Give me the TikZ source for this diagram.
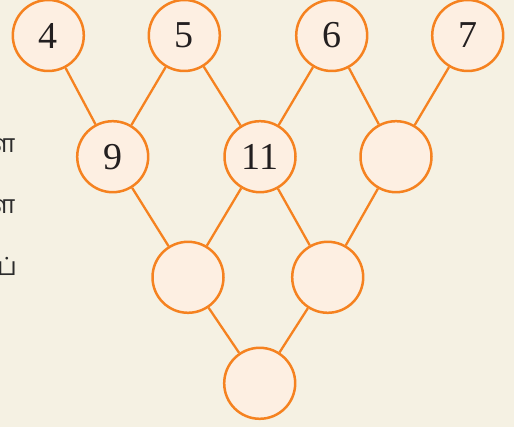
\documentclass[tikz,border=0pt]{standalone}
\usepackage{fontspec}
\setmainfont{Liberation Serif}
\newfontfamily\tamilfont[Script=Tamil]{Hind Madurai}
\definecolor{bg}{HTML}{F5F1E3}
\definecolor{orn}{HTML}{F58220}
\definecolor{cfill}{HTML}{FDEFE2}
\definecolor{txt}{HTML}{231F20}
\definecolor{ttxt}{HTML}{2B2B2B}
\begin{document}
\begin{tikzpicture}[x=1pt,y=-1pt,
  numnode/.style={circle,draw=orn,fill=cfill,line width=2.5pt,minimum size=71pt,inner sep=0pt,
    font=\fontsize{38}{40}\selectfont,text=txt},
  link/.style={draw=orn,line width=2.3pt},
  tam/.style={anchor=east,inner sep=0pt,text=ttxt,font=\tamilfont\fontsize{25}{28}\selectfont}]
\fill[bg] (0,0) rectangle (514,427);
\useasboundingbox (0,0) rectangle (514,427);
\node[numnode] (a) at (48.3,35.5) {4};
\node[numnode] (b) at (184.3,35.5) {5};
\node[numnode] (c) at (331.7,35.5) {6};
\node[numnode] (d) at (467.7,35.5) {7};
\node[numnode] (e) at (112.7,156.7) {9};
\node[numnode] (f) at (260,156.7) {11};
\node[numnode] (g) at (396,156.7) {};
\node[numnode] (h) at (188,277.3) {};
\node[numnode] (i) at (327.7,277.3) {};
\node[numnode] (j) at (259.7,383.3) {};
\draw[link] (a) -- (e);
\draw[link] (b) -- (e);
\draw[link] (b) -- (f);
\draw[link] (c) -- (f);
\draw[link] (c) -- (g);
\draw[link] (d) -- (g);
\draw[link] (e) -- (h);
\draw[link] (f) -- (h);
\draw[link] (f) -- (i);
\draw[link] (g) -- (i);
\draw[link] (h) -- (j);
\draw[link] (i) -- (j);
\node[tam] (t1) at (15.5,146) {ள};
\node[tam] (t2) at (15.5,207) {ள};
\node[tam] (t3) at (17,266) {ப்};
\end{tikzpicture}
\end{document}
